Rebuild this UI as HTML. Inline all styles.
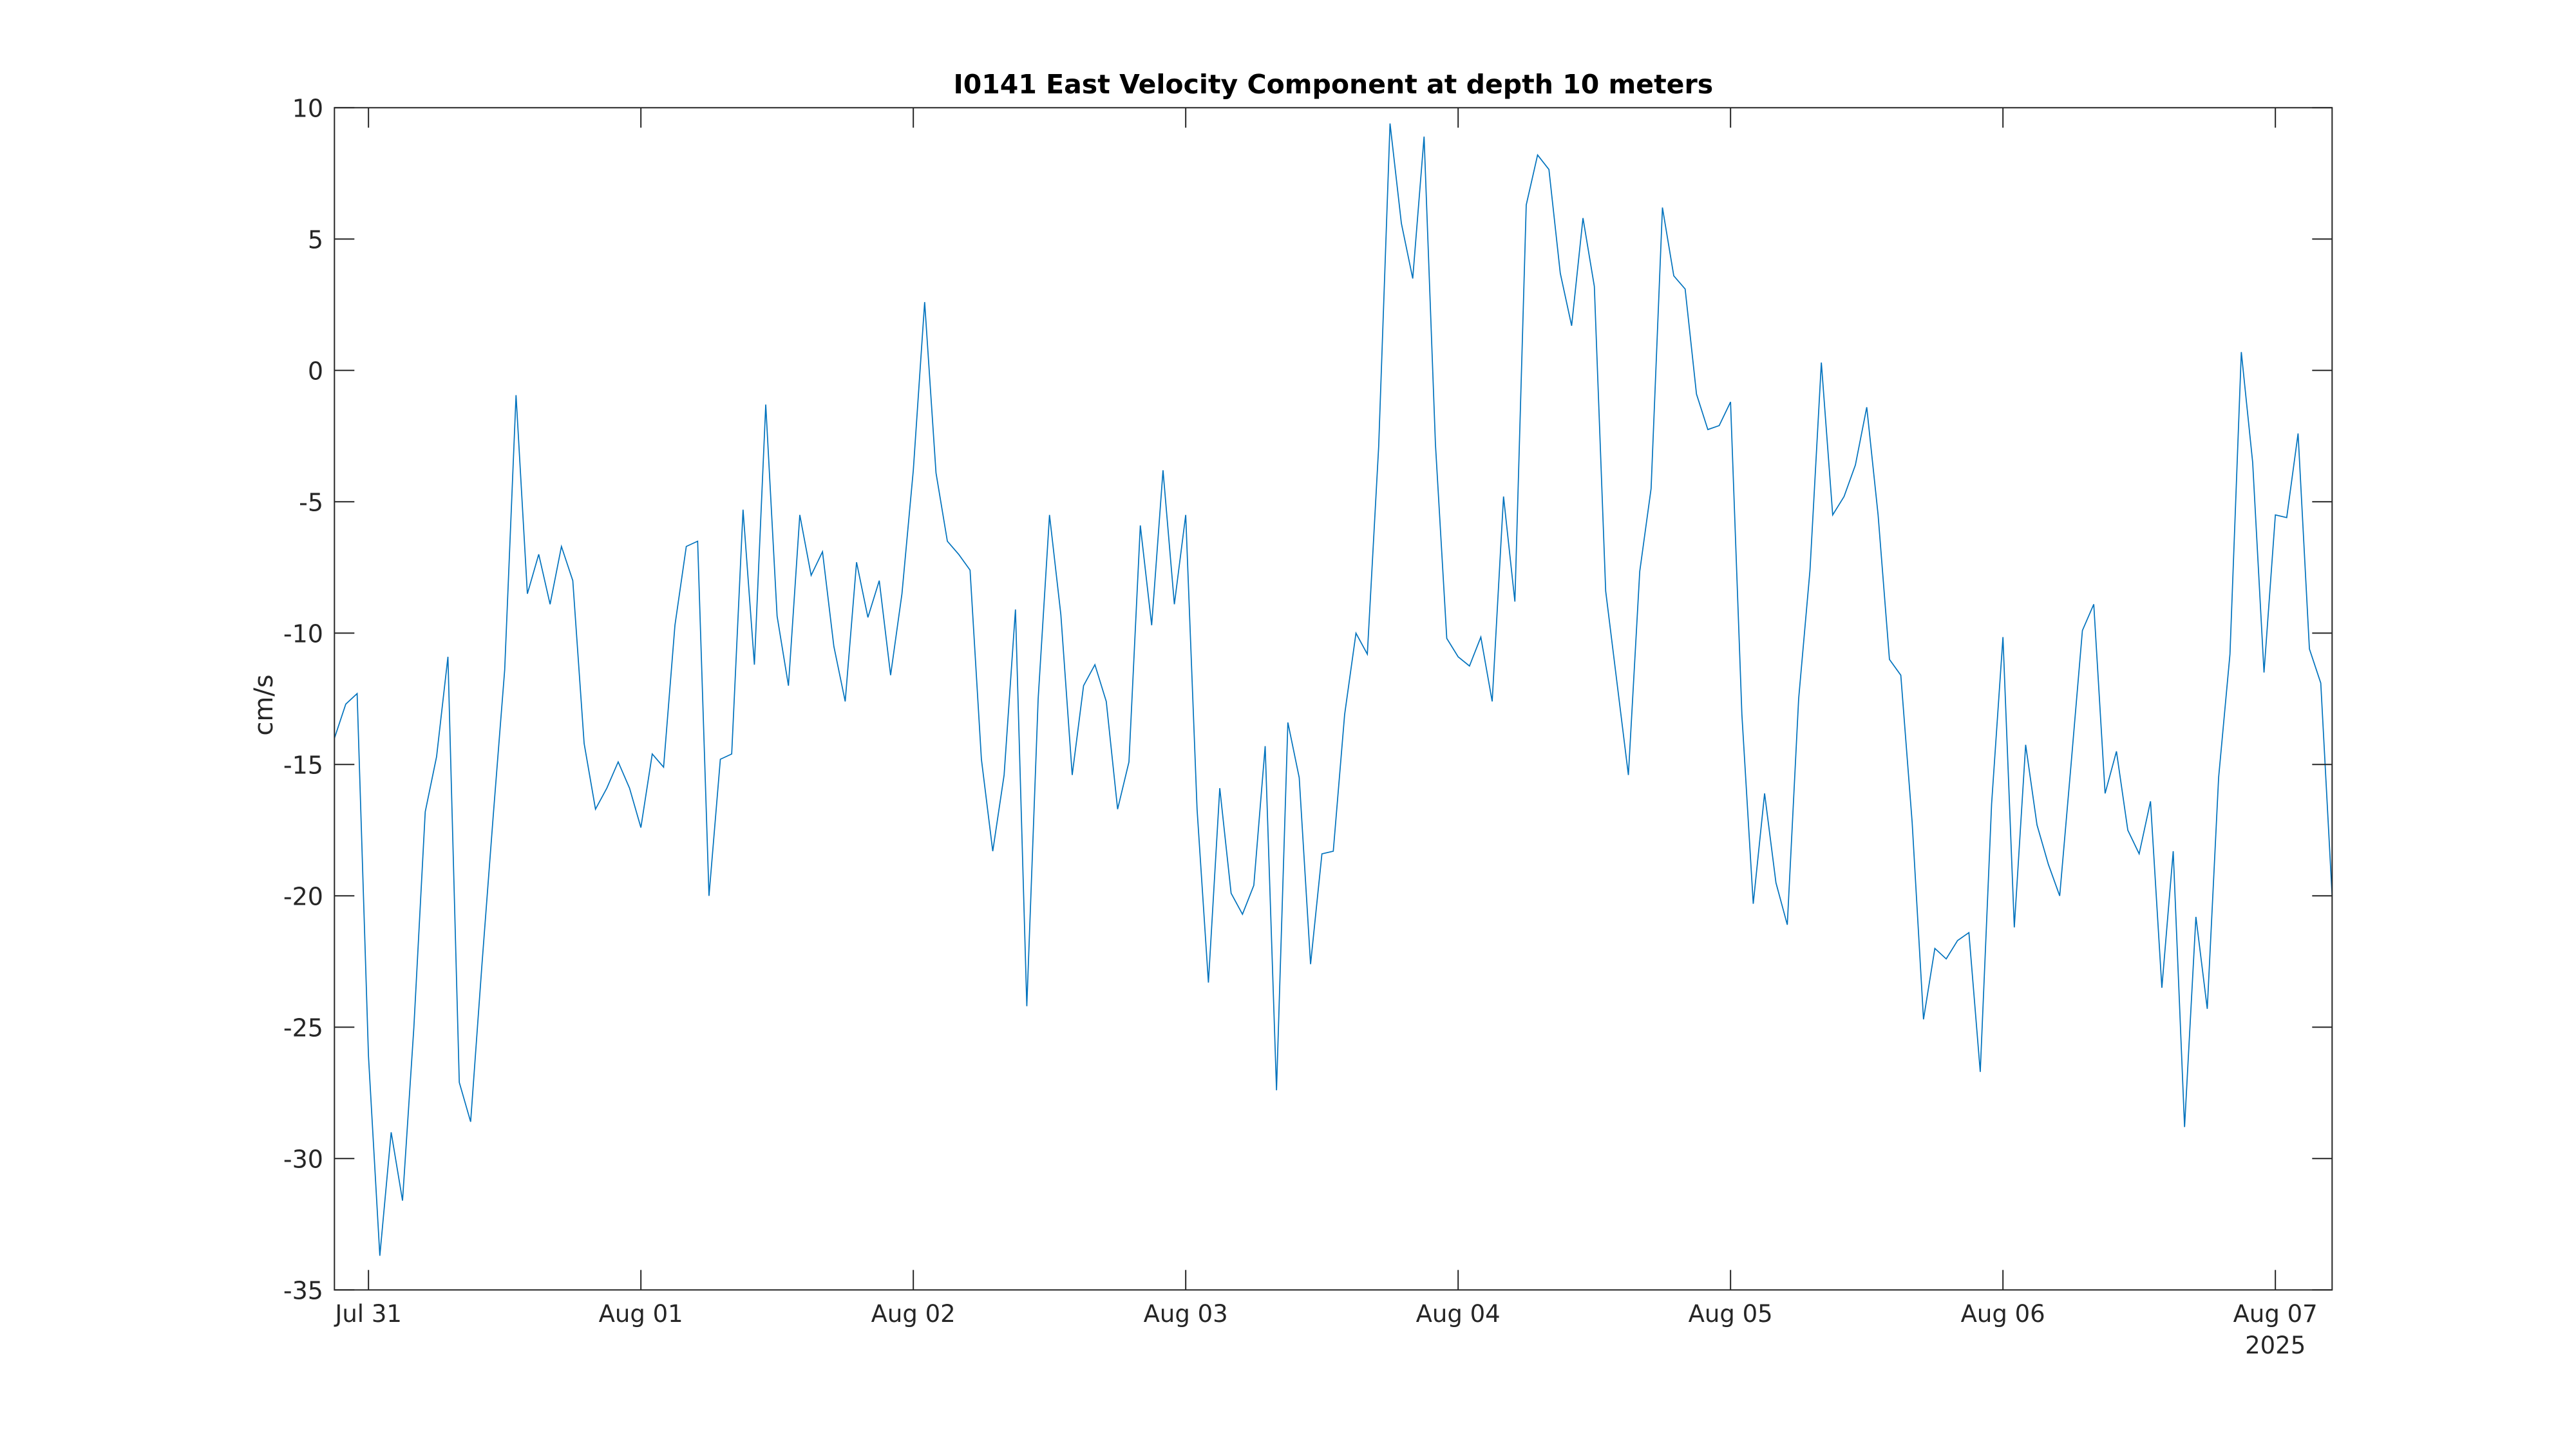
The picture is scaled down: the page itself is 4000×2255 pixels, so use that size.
<!DOCTYPE html>
<html>
<head>
<meta charset="utf-8">
<style>
  html, body { margin: 0; padding: 0; background: #ffffff; }
  body { width: 4000px; height: 2250px; overflow: hidden; }
  svg text { font-family: "DejaVu Sans", "Liberation Sans", sans-serif; fill: #262626; }
</style>
</head>
<body>
<svg id="chart" width="4000" height="2250" viewBox="0 0 4000 2250" xmlns="http://www.w3.org/2000/svg">
  <rect x="0" y="0" width="4000" height="2250" fill="#ffffff"/>
  <g id="axes"></g>
</svg>
<script>
// Data: hourly east velocity (cm/s), starting Jul 30 21:00, ending Aug 07 05:00
const startHourOffset = -3; // hours relative to Jul 31 00:00
const velocity = [
  -14.0, -12.7, -12.3, -26.1, -33.7, -29.0, -31.6, -25.0, -16.8, -14.7,
  -10.9, -27.1, -28.6, -22.6, -16.9, -11.4, -0.94, -8.5, -7.0, -8.9,
  -6.7, -8.0, -14.2, -16.7, -15.9, -14.9, -15.9, -17.4, -14.6, -15.1,
  -9.7, -6.7, -6.5, -20.0, -14.8, -14.6, -5.3, -11.2, -1.3, -9.35,
  -12.0, -5.5, -7.8, -6.9, -10.5, -12.6, -7.3, -9.4, -8.0, -11.6,
  -8.5, -3.8, 2.6, -3.9, -6.5, -7.0, -7.6, -14.8, -18.3, -15.4,
  -9.1, -24.2, -12.5, -5.5, -9.3, -15.4, -12.0, -11.2, -12.6, -16.7,
  -14.9, -5.9, -9.7, -3.8, -8.9, -5.5, -16.7, -23.3, -15.9, -19.9,
  -20.7, -19.6, -14.3, -27.4, -13.4, -15.5, -22.6, -18.4, -18.3, -13.1,
  -10.0, -10.8, -2.9, 9.4, 5.6, 3.5, 8.9, -2.8, -10.2, -10.9,
  -11.25, -10.15, -12.6, -4.8, -8.8, 6.3, 8.2, 7.65, 3.7, 1.7,
  5.8, 3.2, -8.4, -11.9, -15.4, -7.65, -4.5, 6.2, 3.6, 3.1,
  -0.9, -2.25, -2.1, -1.2, -13.1, -20.3, -16.1, -19.5, -21.1, -12.5,
  -7.6, 0.3, -5.5, -4.8, -3.6, -1.4, -5.5, -11.0, -11.6, -17.2,
  -24.7, -22.0, -22.4, -21.7, -21.4, -26.7, -16.5, -10.15, -21.2, -14.25,
  -17.3, -18.8, -20.0, -15.0, -9.9, -8.9, -16.1, -14.5, -17.5, -18.4,
  -16.4, -23.5, -18.3, -28.8, -20.8, -24.3, -15.5, -10.8, 0.7, -3.5,
  -11.5, -5.5, -5.6, -2.4, -10.6, -11.9, -20.0
];
const xTickLabels = ["Jul 31", "Aug 01", "Aug 02", "Aug 03", "Aug 04", "Aug 05", "Aug 06", "Aug 07"];
const yTickValues = [10, 5, 0, -5, -10, -15, -20, -25, -30, -35];
const yearLabel = "2025";

// Layout
const L = 519.3, R = 3621.3, T = 167.3, B = 2003.3;
const yMin = -35, yMax = 10;
const hourMin = -3, hourMax = 24 * 7 + 5;
function xScale(h) { return L + (h - hourMin) / (hourMax - hourMin) * (R - L); }
function yScale(v) { return T + (yMax - v) / (yMax - yMin) * (B - T); }

const NS = "http://www.w3.org/2000/svg";
const g = document.getElementById("axes");
function mk(tag, attrs) {
  const e = document.createElementNS(NS, tag);
  for (const k in attrs) e.setAttribute(k, attrs[k]);
  return e;
}

// Plot background
const bg = mk("rect", { x: L, y: T, width: R - L, height: B - T, fill: "#ffffff" });


g.appendChild(bg);

// Series line
let d = "";
velocity.forEach((v, i) => {
  const h = startHourOffset + i;
  d += (i === 0 ? "M" : "L") + xScale(h).toFixed(2) + "," + yScale(v).toFixed(2);
});
const line = mk("path", { d: d, fill: "none", stroke: "#0072BD", "stroke-width": 1.7, "stroke-linejoin": "miter" });


g.appendChild(line);

// Box
const box = mk("rect", { x: L, y: T, width: R - L, height: B - T, fill: "none", stroke: "#262626", "stroke-width": 2 });


g.appendChild(box);

const tickLen = 31;
// X ticks
xTickLabels.forEach((lab, i) => {
  const x = xScale(i * 24);
  const t1 = mk("line", { x1: x, y1: B, x2: x, y2: B - tickLen, stroke: "#262626", "stroke-width": 2 });
  
  
  g.appendChild(t1);
  const t2 = mk("line", { x1: x, y1: T, x2: x, y2: T + tickLen, stroke: "#262626", "stroke-width": 2 });
  
  
  g.appendChild(t2);
  const tx = mk("text", { x: x, y: 2053, "font-size": 37, "text-anchor": "middle" });
  tx.textContent = lab;
  
  
  g.appendChild(tx);
});
const yr = mk("text", { x: xScale(7 * 24), y: 2102, "font-size": 37, "text-anchor": "middle" });
yr.textContent = yearLabel;


g.appendChild(yr);

// Y ticks
yTickValues.forEach(v => {
  const y = yScale(v);
  const t1 = mk("line", { x1: L, y1: y, x2: L + tickLen, y2: y, stroke: "#262626", "stroke-width": 2 });
  
  
  g.appendChild(t1);
  const t2 = mk("line", { x1: R, y1: y, x2: R - tickLen, y2: y, stroke: "#262626", "stroke-width": 2 });
  
  
  g.appendChild(t2);
  const tx = mk("text", { x: 502, y: y + 14, "font-size": 38, "text-anchor": "end" });
  tx.textContent = String(v);
  
  
  g.appendChild(tx);
});

// Y label
const yl = mk("text", { x: 0, y: 0, "font-size": 40, "text-anchor": "middle", transform: "translate(423,1095) rotate(-90)" });
yl.textContent = "cm/s";


g.appendChild(yl);

// Title
const ti = mk("text", { x: (L + R) / 2, y: 145, "font-size": 41, "font-weight": "bold", "text-anchor": "middle" });
ti.setAttribute("style", "fill:#000000");
ti.textContent = "I0141 East Velocity Component at depth 10 meters";


g.appendChild(ti);
</script>
</body>
</html>
